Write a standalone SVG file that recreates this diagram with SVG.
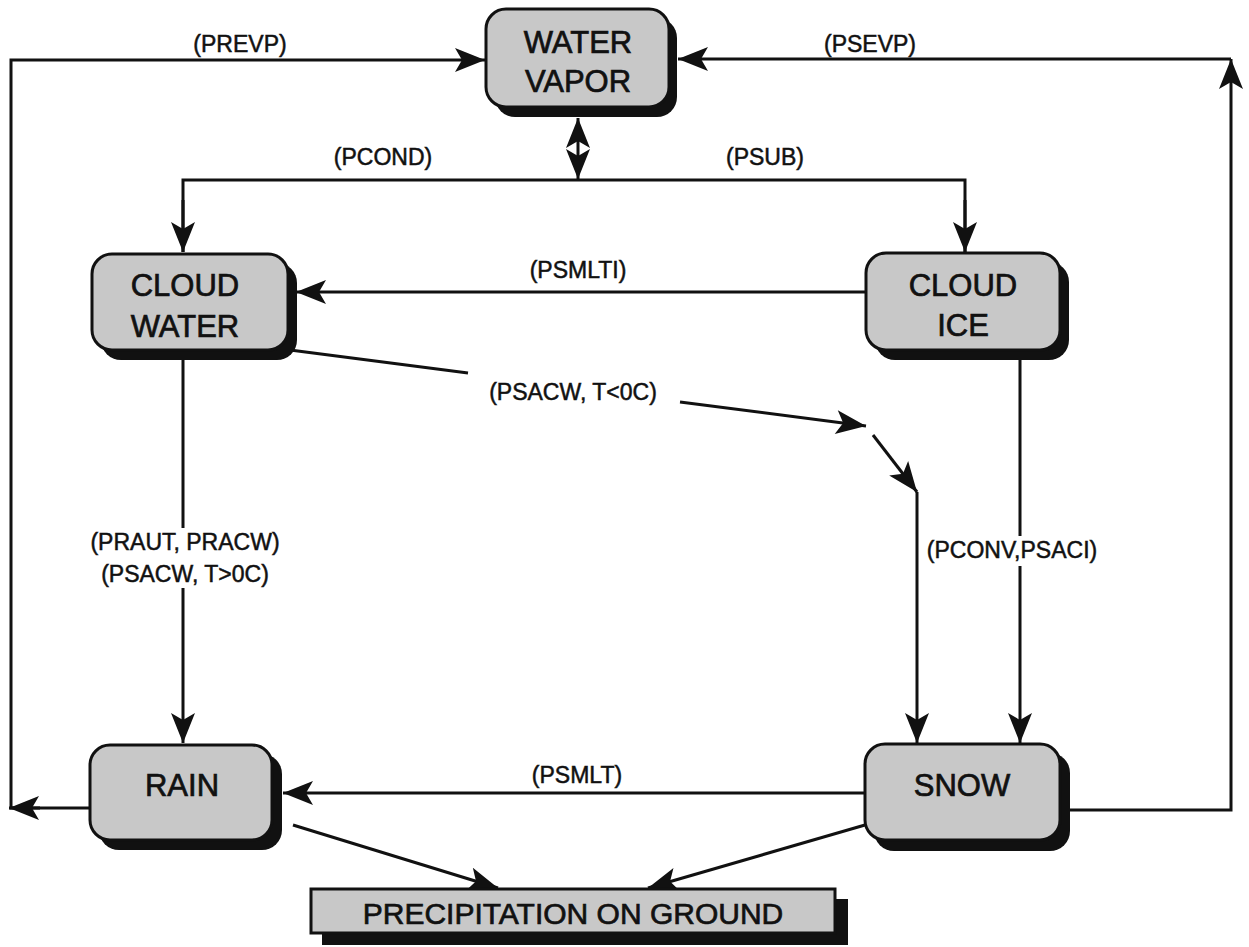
<svg xmlns="http://www.w3.org/2000/svg" width="1249" height="947" viewBox="0 0 1249 947">
<style>
.box{fill:#c8c8c8;stroke:#111;stroke-width:3}
.shadow{fill:#111}
.nt{font-family:"Liberation Sans",Arial,sans-serif;font-size:31px;fill:#111;stroke:#111;stroke-width:0.7;text-anchor:middle}
.lb{font-family:"Liberation Sans",Arial,sans-serif;font-size:23px;fill:#111;stroke:#111;stroke-width:0.5;text-anchor:middle}
.cn{fill:none;stroke:#111;stroke-width:3}
.bg{fill:#fff}
</style>
<defs>
<marker id="arr" viewBox="-32 -13 34 26" refX="0" refY="0" markerWidth="34" markerHeight="26" markerUnits="userSpaceOnUse" orient="auto-start-reverse">
<path d="M0,0 L-30,-12 L-23,0 L-30,12 Z" fill="#111"/>
</marker>
</defs>
<rect width="1249" height="947" fill="#fff"/>
<g id="connectors">
<polyline class="cn" points="90,808 11,808 11,60 485,60" marker-end="url(#arr)"/>
<line class="cn" x1="40" y1="808" x2="9" y2="808" marker-end="url(#arr)"/>
<polyline class="cn" points="1070,810 1231,810 1231,59" marker-end="url(#arr)"/>
<line class="cn" x1="1231" y1="59" x2="678" y2="59" marker-end="url(#arr)"/>
<line class="cn" x1="578" y1="118" x2="578" y2="179" marker-start="url(#arr)" marker-end="url(#arr)"/>
<polyline class="cn" points="183,252 183,180 965,180 965,252"/>
<line class="cn" x1="183" y1="200" x2="183" y2="252" marker-end="url(#arr)"/>
<line class="cn" x1="965" y1="200" x2="965" y2="252" marker-end="url(#arr)"/>
<line class="cn" x1="866" y1="292" x2="296" y2="292" marker-end="url(#arr)"/>
<line class="cn" x1="290" y1="350" x2="468" y2="373"/>
<line class="cn" x1="680" y1="402" x2="866" y2="426" marker-end="url(#arr)"/>
<line class="cn" x1="873" y1="435" x2="917" y2="492" marker-end="url(#arr)"/>
<line class="cn" x1="917" y1="492" x2="917" y2="743" marker-end="url(#arr)"/>
<line class="cn" x1="183" y1="360" x2="183" y2="743" marker-end="url(#arr)"/>
<line class="cn" x1="1020" y1="360" x2="1020" y2="743" marker-end="url(#arr)"/>
<line class="cn" x1="865" y1="793" x2="283" y2="793" marker-end="url(#arr)"/>
<line class="cn" x1="293" y1="825" x2="498" y2="888" marker-end="url(#arr)"/>
<line class="cn" x1="865" y1="825" x2="648" y2="888" marker-end="url(#arr)"/>
<rect class="bg" x="92" y="528" width="186" height="60"/>
<rect class="bg" x="922" y="536" width="184" height="30"/>
<text class="lb" x="240" y="52">(PREVP)</text>
<text class="lb" x="870" y="52">(PSEVP)</text>
<text class="lb" x="383" y="165">(PCOND)</text>
<text class="lb" x="765" y="165">(PSUB)</text>
<text class="lb" x="578" y="278">(PSMLTI)</text>
<text class="lb" x="573" y="400">(PSACW, T&lt;0C)</text>
<text class="lb" x="185" y="550">(PRAUT, PRACW)</text>
<text class="lb" x="185" y="582">(PSACW, T&gt;0C)</text>
<text class="lb" x="1012" y="558">(PCONV,PSACI)</text>
<text class="lb" x="577" y="783">(PSMLT)</text>
</g>
<g id="water-vapor">
<rect class="shadow" x="495" y="18" width="182" height="99" rx="20"/>
<rect class="box" x="486" y="9" width="183" height="98" rx="20"/>
<text class="nt" x="578" y="53">WATER</text>
<text class="nt" x="578" y="92">VAPOR</text>
</g>
<g id="cloud-water">
<rect class="shadow" x="101" y="263" width="196" height="97" rx="20"/>
<rect class="box" x="92" y="254" width="196" height="96" rx="20"/>
<text class="nt" x="185" y="296">CLOUD</text>
<text class="nt" x="185" y="337">WATER</text>
</g>
<g id="cloud-ice">
<rect class="shadow" x="875" y="262" width="194" height="98" rx="20"/>
<rect class="box" x="866" y="253" width="194" height="97" rx="20"/>
<text class="nt" x="963" y="296">CLOUD</text>
<text class="nt" x="963" y="336">ICE</text>
</g>
<g id="rain">
<rect class="shadow" x="99" y="754" width="183" height="96" rx="20"/>
<rect class="box" x="90" y="745" width="182" height="95" rx="20"/>
<text class="nt" x="182" y="796">RAIN</text>
</g>
<g id="snow">
<rect class="shadow" x="874" y="753" width="196" height="98" rx="20"/>
<rect class="box" x="865" y="744" width="195" height="96" rx="20"/>
<text class="nt" x="962" y="796">SNOW</text>
</g>
<g id="precipitation">
<rect class="shadow" x="322" y="899" width="526" height="46"/>
<rect class="box" x="311" y="889" width="524" height="44"/>
<text class="nt" x="573" y="924" style="font-size:30px">PRECIPITATION ON GROUND</text>
</g>
</svg>
